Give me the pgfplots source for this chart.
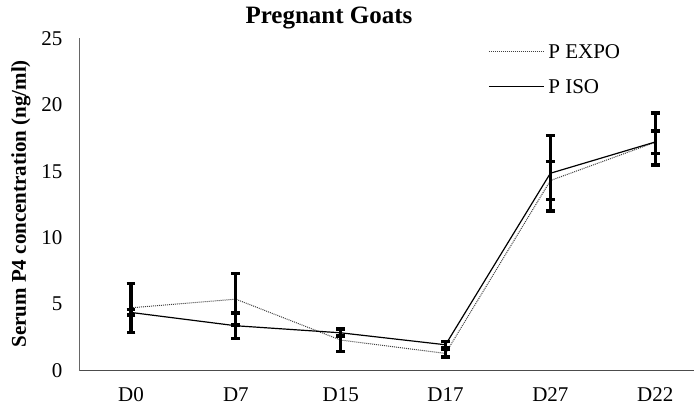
\documentclass[border=0pt]{standalone}
\usepackage{pgfplots}
\pgfplotsset{compat=1.18}
\usepackage{fontspec}
\setmainfont{Liberation Serif}
\begin{document}
\begin{tikzpicture}
\useasboundingbox (-79bp,-34.3bp) rectangle (615bp,370.7bp);
\begin{axis}[
  at={(0,0)}, anchor=south west,
  width=615bp, height=332.4bp, scale only axis,
  xmin=-0.496, xmax=5.37, ymin=0, ymax=25,
  axis x line=bottom, axis y line=left,
  axis line style={-, black!60, line width=0.9bp},
  x axis line style={black!70},
  xtick={0,1,2,3,4,5},
  xticklabels={D0,D7,D15,D17,D27,D22},
  ytick={0,5,10,15,20,25},
  major tick length=0pt,
  tick label style={font=\fontsize{21bp}{25bp}\selectfont},
  /pgf/number format/assume math mode=true,
  yticklabel style={xshift=-13bp},
  xticklabel style={anchor=base, yshift=-30.5bp},
  title={Pregnant Goats},
  title style={font=\fontsize{25bp}{30bp}\selectfont\bfseries, at={(axis description cs:0.4065,1)}, anchor=base, yshift=9bp},
  ylabel={Serum P4 concentration (ng/ml)},
  ylabel style={font=\fontsize{21bp}{25bp}\selectfont\bfseries, at={(axis description cs:-0.0943,0.502)}, anchor=center},
  legend style={draw=none, fill=none, at={(axis description cs:0.665,0.984)}, anchor=north west,
    font=\fontsize{21bp}{25bp}\selectfont, row sep=19bp, inner sep=0pt,
    nodes={inner sep=1bp, text height=14bp, text depth=0bp}},
  legend cell align=left,
  legend image code/.code={\draw[#1] (0bp,0bp) -- (55bp,0bp); \path (58bp,0bp);},
  error bars/y dir=both, error bars/y explicit,
  error bars/error bar style={solid, black, line width=3.3bp},
  error bars/error mark options={solid, black, line width=3.3bp, mark size=4.4bp, rotate=90},
]
\addplot[black!75, densely dotted, line width=1bp, mark=none] coordinates {
  (0,4.73) +- (0,1.85)
  (1,5.38) +- (0,1.95)
  (2,2.30) +- (0,0.85)
  (3,1.30) +- (0,0.28)
  (4,14.30) +- (0,1.45)
  (5,17.18) +- (0,0.84)
};
\addlegendentry{P EXPO}
\addplot[black, solid, line width=1.2bp, mark=none] coordinates {
  (0,4.38) +- (0,0.20)
  (1,3.38) +- (0,0.95)
  (2,2.85) +- (0,0.25)
  (3,1.95) +- (0,0.22)
  (4,14.85) +- (0,2.83)
  (5,17.20) += (0,2.19) -= (0,1.73)
};
\addlegendentry{P ISO}
\end{axis}
\end{tikzpicture}
\end{document}
